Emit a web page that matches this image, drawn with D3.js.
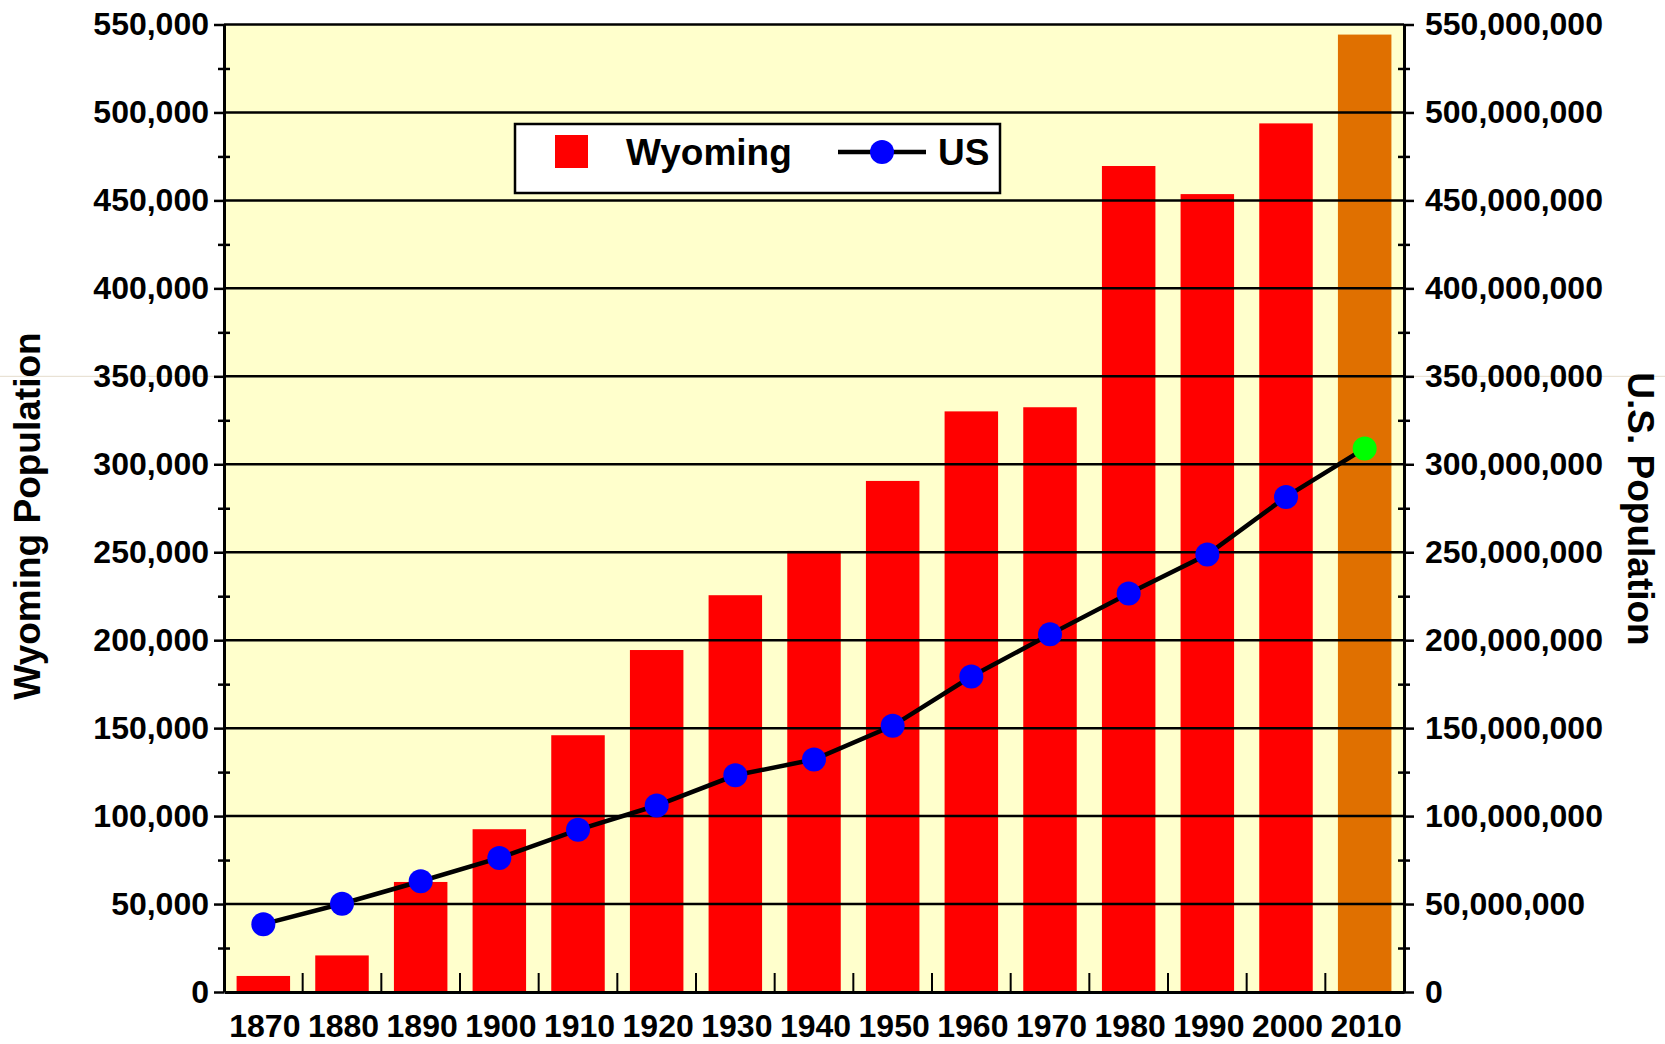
<!DOCTYPE html>
<html>
<head>
<meta charset="utf-8">
<script src="https://cdn.jsdelivr.net/npm/d3@7"></script>
<style>
  body { margin: 0; background: #fff; }
  svg { display: block; font-family: 'Liberation Sans', Arial, sans-serif; font-weight: bold; }
</style>
</head>
<body>
<div id="chart"></div>
<script>
// census years, last one is an estimate
const years = ['1870', '1880', '1890', '1900', '1910', '1920', '1930', '1940', '1950', '1960', '1970', '1980', '1990', '2000', '2010'];
const wyomingPop = [9118, 20789, 62555, 92531, 145965, 194402, 225565, 250742, 290529, 330066, 332416, 469557, 453588, 493782, 544270];
const usPop = [38558371, 50189209, 62979766, 76212168, 92228496, 106021537, 123202624, 132164569, 151325798, 179323175, 203302031, 226545805, 248709873, 281421906, 309000000];
const estimateYears = ['2010'];

const leftTicks = [0, 50000, 100000, 150000, 200000, 250000, 300000, 350000, 400000, 450000, 500000, 550000];
const leftMinor = [25000, 75000, 125000, 175000, 225000, 275000, 325000, 375000, 425000, 475000, 525000];
const rightTicks = leftTicks.map(d => d * 1000);
const rightMinor = leftMinor.map(d => d * 1000);

const seriesNames = ['Wyoming', 'US'];

const width = 1665;
const height = 1044;
const margin = { top: 24.5, right: 261, bottom: 52, left: 224 };

const data = years.map((y, i) => ({ year: y, wy: wyomingPop[i], us: usPop[i], est: estimateYears.includes(y) }));

const svg = d3.select('#chart')
  .append('svg')
  .attr('width', width)
  .attr('height', height);

let x = d3.scaleBand()
  .domain(years)
  .range([margin.left, width - margin.right])
  .paddingInner(0.32)
  .paddingOuter(0.16);

let y = d3.scaleLinear()
  .domain([0, 550000])
  .range([height - margin.bottom, margin.top]);

let yR = d3.scaleLinear()
  .domain([0, 550000000])
  .range([height - margin.bottom, margin.top]);

const x0 = margin.left, x1 = width - margin.right;
const y0 = height - margin.bottom;

// faint stray line across the picture
svg.append('line')
  .attr('x1', 0).attr('x2', width)
  .attr('y1', y(350000)).attr('y2', y(350000))
  .attr('stroke', '#e4dccc')
  .attr('stroke-width', 1);

// plot background
svg.append('rect')
  .attr('x', x0).attr('y', margin.top)
  .attr('width', x1 - x0).attr('height', y0 - margin.top)
  .attr('fill', '#ffffcc');

// bars
svg.append('g')
  .selectAll('rect')
  .data(data)
  .join('rect')
  .attr('x', d => x(d.year))
  .attr('y', d => y(d.wy))
  .attr('width', x.bandwidth())
  .attr('height', d => y(0) - y(d.wy))
  .attr('fill', d => d.est ? '#e07000' : '#ff0000');

// gridlines over the bars
svg.append('g')
  .selectAll('line')
  .data(leftTicks.filter(d => d > 0))
  .join('line')
  .attr('x1', x0).attr('x2', x1)
  .attr('y1', d => y(d)).attr('y2', d => y(d))
  .attr('stroke', '#000')
  .attr('stroke-width', 2.5);

// category boundary ticks pointing up
const step = x.step();
svg.append('g')
  .selectAll('line')
  .data(years.slice(1))
  .join('line')
  .attr('x1', d => x(d) - step * x.paddingInner() / 2)
  .attr('x2', d => x(d) - step * x.paddingInner() / 2)
  .attr('y1', y0).attr('y2', y0 - 19)
  .attr('stroke', '#000')
  .attr('stroke-width', 2);

// left axis
svg.append('g')
  .attr('transform', `translate(${x0},0)`)
  .call(d3.axisLeft(y).tickValues(leftTicks).tickSize(10).tickSizeOuter(0).tickPadding(5).tickFormat(d3.format(',')))
  .call(g => g.select('.domain').attr('stroke-width', 3))
  .call(g => g.selectAll('.tick line').attr('stroke-width', 2.5))
  .call(g => g.selectAll('text').attr('font-size', 32).attr('font-family', null).attr('fill', '#000'));

svg.append('g')
  .attr('transform', `translate(${x0 + 6},0)`)
  .call(d3.axisLeft(y).tickValues(leftMinor).tickSize(12).tickFormat(''))
  .call(g => g.select('.domain').remove())
  .call(g => g.selectAll('.tick line').attr('stroke-width', 2.5));

// right axis
svg.append('g')
  .attr('transform', `translate(${x1},0)`)
  .call(d3.axisRight(yR).tickValues(rightTicks).tickSize(10).tickSizeOuter(0).tickPadding(11).tickFormat(d3.format(',')))
  .call(g => g.select('.domain').attr('stroke-width', 3))
  .call(g => g.selectAll('.tick line').attr('stroke-width', 2.5))
  .call(g => g.selectAll('text').attr('font-size', 32).attr('font-family', null).attr('fill', '#000'));

svg.append('g')
  .attr('transform', `translate(${x1 - 6},0)`)
  .call(d3.axisRight(yR).tickValues(rightMinor).tickSize(12).tickFormat(''))
  .call(g => g.select('.domain').remove())
  .call(g => g.selectAll('.tick line').attr('stroke-width', 2.5));

// bottom axis
svg.append('g')
  .attr('transform', `translate(0,${y0})`)
  .call(d3.axisBottom(x).tickSize(0).tickSizeOuter(0))
  .call(g => g.select('.domain').attr('stroke-width', 3))
  .call(g => g.selectAll('text')
    .attr('font-size', 32)
    .attr('font-family', null)
    .attr('fill', '#000')
    .attr('x', 1.5)
    .attr('y', 45)
    .attr('dy', 0));

// US line
let line = d3.line()
  .x(d => x(d.year) + x.bandwidth() / 2)
  .y(d => yR(d.us));

svg.append('path')
  .datum(data)
  .attr('fill', 'none')
  .attr('stroke', '#000')
  .attr('stroke-width', 4.5)
  .attr('d', line);

svg.append('g')
  .selectAll('circle')
  .data(data)
  .join('circle')
  .attr('cx', d => x(d.year) + x.bandwidth() / 2)
  .attr('cy', d => yR(d.us))
  .attr('r', 12)
  .attr('fill', d => d.est ? '#00ff00' : '#0000ff');

// legend
const legend = svg.append('g');
legend.append('rect')
  .attr('x', 515).attr('y', 124)
  .attr('width', 485).attr('height', 69)
  .attr('fill', '#fff')
  .attr('stroke', '#000')
  .attr('stroke-width', 2.5);
legend.append('rect')
  .attr('x', 555).attr('y', 135)
  .attr('width', 33).attr('height', 33)
  .attr('fill', '#ff0000');
legend.append('text')
  .attr('x', 626).attr('y', 165)
  .attr('font-size', 37)
  .text(seriesNames[0]);
legend.append('line')
  .attr('x1', 838).attr('x2', 926)
  .attr('y1', 152).attr('y2', 152)
  .attr('stroke', '#000')
  .attr('stroke-width', 4.5);
legend.append('circle')
  .attr('cx', 882).attr('cy', 152)
  .attr('r', 12)
  .attr('fill', '#0000ff');
legend.append('text')
  .attr('x', 938).attr('y', 165)
  .attr('font-size', 37)
  .text(seriesNames[1]);

// axis titles
svg.append('text')
  .attr('transform', 'translate(39.5,516) rotate(-90)')
  .attr('text-anchor', 'middle')
  .attr('font-size', 37)
  .text('Wyoming Population');

svg.append('text')
  .attr('transform', 'translate(1628,509) rotate(90)')
  .attr('text-anchor', 'middle')
  .attr('font-size', 37)
  .text('U.S. Population');
</script>
</body>
</html>
